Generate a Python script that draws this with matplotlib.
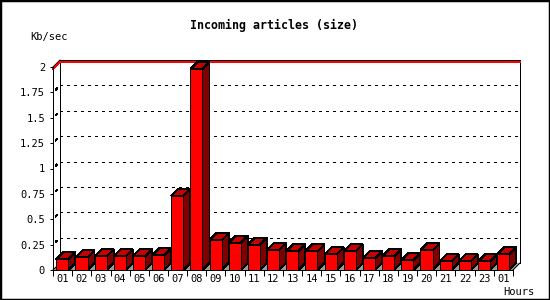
import numpy as np
import matplotlib.pyplot as plt
from matplotlib.patches import Polygon, Rectangle

plt.rcParams['font.family'] = 'DejaVu Sans Mono'
plt.rcParams['lines.scale_dashes'] = False

# data
hours = ['01', '02', '03', '04', '05', '06', '07', '08', '09', '10', '11', '12',
         '13', '14', '15', '16', '17', '18', '19', '20', '21', '22', '23', '01']
kb_sec = [0.105, 0.125, 0.135, 0.135, 0.135, 0.145, 0.73, 1.98, 0.295, 0.27, 0.25, 0.20,
          0.185, 0.185, 0.155, 0.185, 0.115, 0.135, 0.095, 0.195, 0.085, 0.085, 0.085, 0.155]
y_ticks = [0, 0.25, 0.5, 0.75, 1, 1.25, 1.5, 1.75, 2]
y_labels = ['0', '0.25', '0.5', '0.75', '1', '1.25', '1.5', '1.75', '2']

px = 0.72  # one pixel in points at 100 dpi
W, H = 550, 300

fig = plt.figure(figsize=(5.5, 3), dpi=100)
ax = fig.add_axes([53 / W, 30 / H, 460 / W, 203 / H])
n = len(kb_sec)
ax.set_xlim(0, n)
ax.set_ylim(0, 2)

# depth offset of the fake 3d, in data units
dx = 7 / (460 / n)
dy = 7 / (203 / 2)

# floor
ax.add_patch(Polygon([(0, 0), (n, 0), (n + dx, dy), (dx, dy)], closed=True,
                     fc='#999999', ec='none', clip_on=False, zorder=1))

# dotted grid on back wall + left wall
for v in y_ticks[1:-1]:
    ax.plot([dx, n + dx], [v + dy, v + dy], color='black', lw=px, dashes=(1.5, 3.0),
            clip_on=False, zorder=1.5, antialiased=False)
    ax.plot([0, dx], [v, v + dy], color='black', lw=px, linestyle=(9.0, (1.5, 10.0)),
            clip_on=False, zorder=1.5, antialiased=False)

# back wall outline
top = y_ticks[-1]
ax.plot([dx, dx, n + dx, n + dx], [dy, top + dy, top + dy, dy], color='black', lw=px,
        clip_on=False, zorder=2, antialiased=False)
ax.plot([0, dx], [top, top + dy], color='black', lw=px, clip_on=False, zorder=2)
ax.plot([0, dx], [0, dy], color='black', lw=px, clip_on=False, zorder=2)
ax.plot([n, n + dx], [0, dy], color='black', lw=px, clip_on=False, zorder=2)

# max line in red
vmax = max(kb_sec)
ax.plot([0, dx, n + dx], [vmax, vmax + dy, vmax + dy], color='red', lw=px,
        clip_on=False, zorder=2.2, antialiased=False)

# bars
w = 0.63
for i, v in enumerate(kb_sec):
    x0 = i + 0.17
    x1 = x0 + w
    ax.add_patch(Polygon([(x0, v), (x1, v), (x1 + dx, v + dy), (x0 + dx, v + dy)], closed=True,
                         fc='#c40000', ec='black', lw=px, clip_on=False, zorder=3,
                         antialiased=False))
    ax.add_patch(Polygon([(x1, 0), (x1 + dx, dy), (x1 + dx, v + dy), (x1, v)], closed=True,
                         fc='#800000', ec='black', lw=px, clip_on=False, zorder=3,
                         antialiased=False))
    ax.add_patch(Rectangle((x0, 0), w, v, fc='#ff0000', ec='black', lw=px,
                           clip_on=False, zorder=3.5, antialiased=False))

for s in ['top', 'right']:
    ax.spines[s].set_visible(False)
for s in ['left', 'bottom']:
    ax.spines[s].set_linewidth(px)
    ax.spines[s].set_zorder(4)
ax.patch.set_alpha(0)

ax.set_yticks(y_ticks)
ax.set_yticklabels(y_labels)
ax.tick_params(axis='y', length=3 * px, width=px, pad=5 * px, labelsize=7.5)

ax.set_xticks(np.arange(n + 1))
ax.set_xticklabels([])
ax.set_xticks(np.arange(n) + 0.5, minor=True)
ax.set_xticklabels(hours, minor=True)
ax.tick_params(axis='x', which='major', length=6 * px, width=px)
ax.tick_params(axis='x', which='minor', length=0, pad=4.5 * px, labelsize=7.5)

fig.text(274 / W, 1 - 25 / H, 'Incoming articles (size)', ha='center', va='center',
         fontsize=8.4, fontweight='bold')
fig.text(30 / W, 1 - 37 / H, 'Kb/sec', ha='left', va='center', fontsize=7.5)
fig.text(534 / W, 1 - 292 / H, 'Hours', ha='right', va='center', fontsize=7.5)

# image border
fig.add_artist(Rectangle((0, 0), 1, 1, transform=fig.transFigure, fill=False,
                         ec='black', lw=2.5))

fig.savefig('out.png', dpi=100)
